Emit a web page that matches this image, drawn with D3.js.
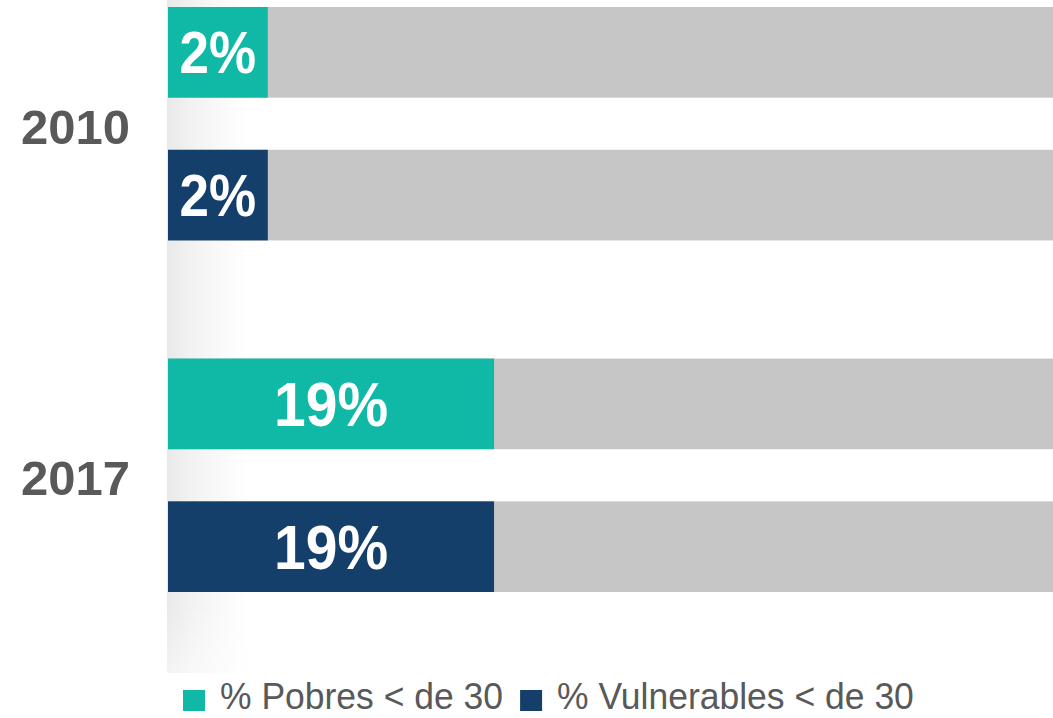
<!DOCTYPE html>
<html>
<head>
<meta charset="utf-8">
<script src="https://cdn.jsdelivr.net/npm/d3@7"></script>
<style>
  html, body { margin: 0; padding: 0; background: #fff; }
  svg { display: block; }
  text { font-family: "Liberation Sans", Arial, sans-serif; }
</style>
</head>
<body>
<svg id="chart" width="1053" height="718"></svg>
<script>
// ---- Data ----
const years = ["2010", "2017"];
const seriesNames = ["% Pobres < de 30", "% Vulnerables < de 30"];
const pobres = [2, 19];
const vulnerables = [2, 19];
const seriesColors = ["#10b8a6", "#153f6b"];

const W = 1053, H = 718;
const svg = d3.select("#chart");

const rows = [];
years.forEach((y, i) => {
  rows.push({ year: y, series: seriesNames[0], value: pobres[i], color: seriesColors[0] });
  rows.push({ year: y, series: seriesNames[1], value: vulnerables[i], color: seriesColors[1] });
});

// ---- Scales ----
const x = d3.scaleLinear().domain([-5.5, 61]).range([168, 1053]);
const y0 = d3.scaleBand().domain(years).range([7, 592]).paddingInner(0.336).paddingOuter(0);
const y1 = d3.scaleBand().domain(seriesNames).range([0, y0.bandwidth()]).paddingInner(0.365).paddingOuter(0);

// ---- Shadow on the left ----
const defs = svg.append("defs");
const sg = defs.append("linearGradient").attr("id", "shadow").attr("x1", 0).attr("x2", 1).attr("y1", 0).attr("y2", 0);
sg.append("stop").attr("offset", 0).attr("stop-color", "#e9e9e9");
sg.append("stop").attr("offset", 0.35).attr("stop-color", "#f3f3f3");
sg.append("stop").attr("offset", 1).attr("stop-color", "#ffffff");
const mg = defs.append("linearGradient").attr("id", "fadeV").attr("x1", 0).attr("x2", 0).attr("y1", 0).attr("y2", 1);
mg.append("stop").attr("offset", 0).attr("stop-color", "#fff");
mg.append("stop").attr("offset", 0.9).attr("stop-color", "#fff");
mg.append("stop").attr("offset", 1).attr("stop-color", "#888");
defs.append("mask").attr("id", "shadowMask").attr("maskUnits", "userSpaceOnUse")
  .append("rect").attr("x", 160).attr("y", 0).attr("width", 100).attr("height", 673).attr("fill", "url(#fadeV)");
svg.append("rect")
  .attr("x", x.range()[0] - 1).attr("y", 0).attr("width", 80).attr("height", 673)
  .attr("fill", "url(#shadow)").attr("mask", "url(#shadowMask)");

// ---- Bars ----
const g = svg.append("g");
const groups = g.selectAll("g.row").data(rows).join("g")
  .attr("class", "row")
  .attr("transform", d => `translate(0,${y0(d.year) + y1(d.series)})`);

groups.append("rect")
  .attr("x", x.range()[0]).attr("y", 0)
  .attr("width", x.range()[1] - x.range()[0])
  .attr("height", y1.bandwidth())
  .attr("fill", "#c6c6c6");

groups.append("rect")
  .attr("x", x.range()[0]).attr("y", 0)
  .attr("width", d => x(d.value) - x.range()[0])
  .attr("height", y1.bandwidth())
  .attr("fill", d => d.color);

const labelSize = d => (x(d.value) - x.range()[0]) > 150 ? 57 : 53;
groups.append("text")
  .attr("transform", d => `translate(${(x.range()[0] + x(d.value)) / 2},${y1.bandwidth() / 2}) scale(1,1.1)`)
  .attr("text-anchor", "middle")
  .attr("font-weight", "bold")
  .attr("font-size", d => labelSize(d) + "px")
  .attr("y", d => 0.36 * labelSize(d))
  .attr("fill", "#ffffff")
  .text(d => d.value + "%");

// ---- Year labels ----
svg.selectAll("text.year").data(years).join("text")
  .attr("class", "year")
  .attr("x", 21)
  .attr("y", d => y0(d) + y0.bandwidth() / 2 + 20)
  .attr("font-size", "49px")
  .attr("font-weight", "bold")
  .attr("fill", "#595959")
  .text(d => d);

// ---- Legend ----
const legend = svg.append("g").attr("transform", "translate(183,690)");
let lx = 0;
seriesNames.forEach((name, i) => {
  const item = legend.append("g").attr("transform", `translate(${lx},0)`);
  item.append("rect").attr("x", 0).attr("y", 0).attr("width", 22).attr("height", 21).attr("fill", seriesColors[i]);
  const t = item.append("text")
    .attr("transform", "translate(37,19) scale(1,1.04)")
    .attr("font-size", "35.5px")
    .attr("fill", "#595959")
    .text(name);
  lx += 37 + t.node().getComputedTextLength() + 17;
});
</script>
</body>
</html>
